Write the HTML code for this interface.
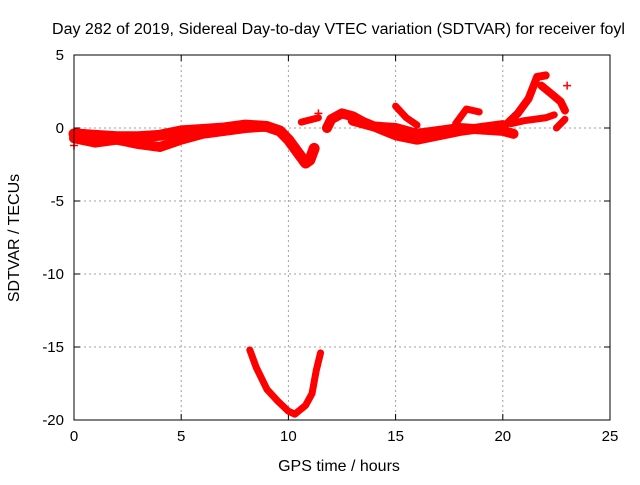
<!DOCTYPE html>
<html><head><meta charset="utf-8"><style>
body{margin:0;background:#fff;}
svg text{font-family:"Liberation Sans",sans-serif;font-size:15px;fill:#000;}
</style></head><body>
<svg id="chart" width="640" height="480" xmlns="http://www.w3.org/2000/svg">
<text x="52" y="34" style="font-size:15.5px" textLength="573" lengthAdjust="spacingAndGlyphs">Day 282 of 2019, Sidereal Day-to-day VTEC variation (SDTVAR) for receiver foyl</text>
<text x="339" y="471" text-anchor="middle" style="font-size:16px">GPS time / hours</text>
<text transform="translate(19,238) rotate(-90)" text-anchor="middle" style="font-size:16px">SDTVAR / TECUs</text>
<g id="grid"></g><g id="ticks"></g><g id="series"></g>
<rect x="74" y="55" width="536" height="365" fill="none" stroke="#000" stroke-width="1"/>
</svg>
<script>
const xTicks=[0,5,10,15,20,25];
const yTicks=[5,0,-5,-10,-15,-20];
const trackMain=[[0,-0.4],[1,-0.5],[2,-0.6],[3,-0.6],[4,-0.5],[5,-0.2],[6,-0.1],[7,0],[8,0.2],[9,0.1],[9.6,-0.2],[10,-0.8],[10.5,-1.8],[10.8,-2.4],[11,-2.2],[11.2,-1.4]];
const trackLow=[[0,-0.7],[1,-1],[2,-0.8],[3,-1.1],[4,-1.3],[5,-0.8],[6,-0.4],[7,-0.2],[8,0],[9,0.1]];
const trackSmall=[[10.6,0.4],[11.4,0.7]];
const trackU=[[8.2,-15.2],[8.5,-16.4],[9,-17.9],[9.5,-18.7],[10,-19.4],[10.3,-19.6],[10.8,-19],[11.1,-18.2],[11.3,-16.6],[11.5,-15.4]];
const trackR1=[[11.8,0],[12,0.6],[12.5,1],[13,0.8],[13.5,0.4],[14,0.1],[15,0],[16,-0.4],[17,-0.2],[18,0],[19,-0.1],[20,-0.2],[20.5,-0.4]];
const trackR2=[[13,0.5],[14,0.1],[15,-0.5],[16,-0.8],[17,-0.5],[18,-0.2],[19,0],[20,0.2]];
const trackR3=[[15,1.5],[15.5,0.7],[16,0.2]];
const trackR4=[[17.8,0.3],[18.3,1.3],[18.9,1.1]];
const trackR5=[[20.2,0.3],[20.7,1],[21.2,2],[21.6,3.5],[22,3.6]];
const trackR6=[[21.8,2.9],[22.3,2.3],[22.7,1.8],[22.9,1.2]];
const trackR7=[[20.4,0.3],[21,0.5],[22,0.7],[22.4,0.9]];
const trackR8=[[22.5,0],[22.9,0.6]];
const strays=[[23,2.9],[11.4,1.0],[0,-1.2]];
const tracks=[trackMain,trackLow,trackSmall,trackU,trackR1,trackR2,trackR3,trackR4,trackR5,trackR6,trackR7,trackR8];
const widths=[11,10,7,7,10,10,7,7,8,8,7,7];
const NS="http://www.w3.org/2000/svg";
const X0=74,X1=610,Y0=420,Y1=55;
const sx=h=>X0+(h-0)/(25-0)*(X1-X0);
const sy=v=>Y0-(v+20)/(25)*(Y0-Y1);
function mk(t,a,p){const e=document.createElementNS(NS,t);for(const k in a)e.setAttribute(k,a[k]);p.appendChild(e);return e;}
const grid=document.getElementById('grid'),ticks=document.getElementById('ticks'),ser=document.getElementById('series');
xTicks.forEach(t=>{const x=sx(t);
 if(t>0&&t<25){const l=mk('line',{x1:x,x2:x,y1:Y1,y2:Y0,stroke:'#a0a0a0','stroke-dasharray':'2,3'},grid);
 
 }
 mk('line',{x1:x,x2:x,y1:Y0,y2:Y0-6,stroke:'#000'},ticks);mk('line',{x1:x,x2:x,y1:Y1,y2:Y1+6,stroke:'#000'},ticks);
 const tx=mk('text',{x:x,y:Y0+21,'text-anchor':'middle'},ticks);tx.textContent=t;
 
 });
yTicks.forEach(t=>{const y=sy(t);
 if(t<5&&t>-20){const l=mk('line',{x1:X0,x2:X1,y1:y,y2:y,stroke:'#a0a0a0','stroke-dasharray':'2,3'},grid);
 
 }
 mk('line',{x1:X0,x2:X0+6,y1:y,y2:y,stroke:'#000'},ticks);mk('line',{x1:X1,x2:X1-6,y1:y,y2:y,stroke:'#000'},ticks);
 const tx=mk('text',{x:X0-10,y:y+5,'text-anchor':'end'},ticks);tx.textContent=t;
 
 });
tracks.forEach((tr,i)=>{const pts=tr.map(p=>sx(p[0])+','+sy(p[1])).join(' ');
 const pl=mk('polyline',{points:pts,fill:'none',stroke:'#ff0000','stroke-width':widths[i],'stroke-linejoin':'round','stroke-linecap':'round'},ser);
 
 });
strays.forEach(p=>{const x=sx(p[0]),y=sy(p[1]);
 const c=mk('path',{d:`M${x-4},${y}H${x+4}M${x},${y-4}V${y+4}`,stroke:'#ff0000','stroke-width':1.5},ser);
 
 });
</script>
</body></html>
